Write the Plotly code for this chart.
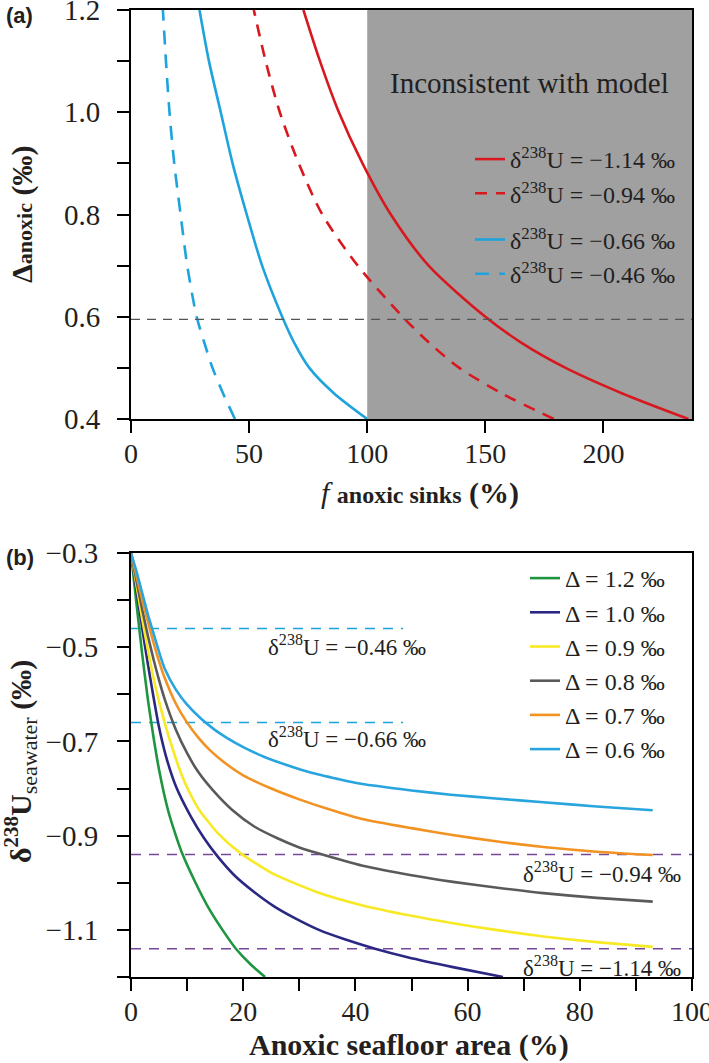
import plotly.graph_objects as go

# ---------------- Panel (a) data ----------------
delta_a = [0.4, 0.45, 0.5, 0.55, 0.6, 0.7, 0.8, 0.9, 1.0, 1.1, 1.2]
f_red_solid = [236, 208, 184, 165, 150, 126, 110, 98, 88, 80, 73]          # d238U = -1.14
f_red_dash = [179, 157, 139, 126, 115, 96, 81, 71, 63, 57, 52]             # d238U = -0.94
f_blue_solid = [100, 86, 75.5, 69, 64, 55.5, 49, 43, 38, 33, 29]           # d238U = -0.66
f_blue_dash = [44, 39, 34.5, 31, 27.8, 23.8, 21, 18.3, 16.3, 14.8, 13.5]   # d238U = -0.46
names_a = ["δ<sup>238</sup>U = −1.14 ‰", "δ<sup>238</sup>U = −0.94 ‰",
           "δ<sup>238</sup>U = −0.66 ‰", "δ<sup>238</sup>U = −0.46 ‰"]
ref_delta_a = 0.595
shade_start = 100
xa_range = [0, 237.5]
ya_range = [0.4, 1.2]
xa_tickvals = [0, 50, 100, 150, 200]
xa_ticktext = ["0", "50", "100", "150", "200"]
ya_tickvals = [0.4, 0.5, 0.6, 0.7, 0.8, 0.9, 1.0, 1.1, 1.2]
ya_ticktext = ["0.4", "", "0.6", "", "0.8", "", "1.0", "", "1.2"]

# ---------------- Panel (b) data ----------------
x_d12 = [0, 1, 2, 3, 4, 5, 6.6, 8, 9.1, 11.5, 13.9, 16.3, 18.7, 21.3, 23.9]
y_d12 = [-0.3, -0.41, -0.515, -0.61, -0.69, -0.76, -0.846, -0.9, -0.937, -1.0, -1.055, -1.1, -1.14, -1.173, -1.2]
x_d10 = [0, 1, 2, 3, 4, 5, 6.2, 8, 10.7, 13, 15.5, 18.5, 22, 25.5, 29.2, 33.5, 38.1, 43.5, 49.3, 57.4, 66.3]
y_d10 = [-0.3, -0.38, -0.46, -0.535, -0.605, -0.67, -0.73, -0.795, -0.86, -0.905, -0.945, -0.985, -1.02, -1.05,
         -1.075, -1.1, -1.12, -1.14, -1.158, -1.179, -1.2]
x_d09 = [0, 1, 2, 3, 4, 5, 6, 7.4, 9, 10.5, 12.2, 15.5, 19.5, 25.2, 33.2, 41.3, 50, 57.4, 65, 73.5, 83, 93]
y_d09 = [-0.3, -0.37, -0.44, -0.505, -0.565, -0.615, -0.66, -0.715, -0.77, -0.81, -0.846, -0.895, -0.937, -0.98,
         -1.02, -1.048, -1.07, -1.086, -1.10, -1.114, -1.126, -1.136]
x_d08 = [0, 1, 2, 3, 4, 5, 6, 8, 10, 12, 14.7, 18, 21.9, 26, 30, 33.2, 41.3, 50, 57.4, 65, 73.5, 83, 93]
y_d08 = [-0.3, -0.36, -0.42, -0.475, -0.525, -0.57, -0.61, -0.675, -0.725, -0.765, -0.805, -0.845, -0.88, -0.905,
         -0.925, -0.937, -0.964, -0.984, -0.998, -1.01, -1.022, -1.032, -1.04]
x_d07 = [0, 1, 2, 3, 4, 5, 6, 8, 10, 12, 14, 17, 20, 25, 30, 35, 41, 50, 57, 65, 73.5, 83, 93]
y_d07 = [-0.3, -0.35, -0.40, -0.445, -0.49, -0.53, -0.565, -0.62, -0.66, -0.692, -0.718, -0.748, -0.772, -0.80,
         -0.823, -0.843, -0.864, -0.884, -0.898, -0.912, -0.924, -0.934, -0.941]
x_d06 = [0, 1, 2, 3, 4, 5, 6, 8, 10, 12.5, 15, 17.3, 20, 24, 28, 32, 37, 41, 50, 57, 65, 73.5, 83, 93]
y_d06 = [-0.3, -0.34, -0.385, -0.43, -0.47, -0.51, -0.545, -0.59, -0.622, -0.652, -0.676, -0.694, -0.712, -0.734,
         -0.751, -0.766, -0.78, -0.79, -0.804, -0.813, -0.821, -0.829, -0.838, -0.846]
names_b = ["Δ = 1.2 ‰", "Δ = 1.0 ‰", "Δ = 0.9 ‰", "Δ = 0.8 ‰", "Δ = 0.7 ‰", "Δ = 0.6 ‰"]
ref_blue_b = [-0.46, -0.66]
ref_blue_b_xmax = 48.5
ref_purple_b = [-0.94, -1.14]
ref_labels_b = ["δ<sup>238</sup>U = −0.46 ‰", "δ<sup>238</sup>U = −0.66 ‰",
                "δ<sup>238</sup>U = −0.94 ‰", "δ<sup>238</sup>U = −1.14 ‰"]
ref_label_x = [38.5, 38.5, 84, 84]
ref_label_y = [-0.497, -0.692, -0.979, -1.178]
xb_range = [0, 100]
yb_range = [-1.2, -0.3]
xb_tickvals = [0, 10, 20, 30, 40, 50, 60, 70, 80, 90, 100]
xb_ticktext = ["0", "", "20", "", "40", "", "60", "", "80", "", "100"]
yb_tickvals = [-1.2, -1.1, -1.0, -0.9, -0.8, -0.7, -0.6, -0.5, -0.4, -0.3]
yb_ticktext = ["", "−1.1", "", "−0.9", "", "−0.7", "", "−0.5", "", "−0.3"]

# ---------------- Styling ----------------
W, H = 709, 1063
SERIF = "Liberation Serif, Times New Roman, serif"
SANS = "Liberation Sans, Arial, sans-serif"
TXT = "#231f20"
RED = "#d7191f"
BLUE = "#1fa3dc"
COLORS_B = ["#1e9640", "#2b2884", "#f8e925", "#5a5a5a", "#f29222", "#28a5de"]
PURPLE = "#74479b"


def px_x(p):
    return p / W


def px_y(p):
    return 1 - p / H


fig = go.Figure()

# panel (a) curves
a_series = [(f_red_solid, RED, "solid", "red"), (f_red_dash, RED, "12px,9px", "red"),
            (f_blue_solid, BLUE, "solid", "blue"), (f_blue_dash, BLUE, "14px,10px", "blue")]
for (fx, col, dash, grp), nm in zip(a_series, names_a):
    fig.add_trace(go.Scatter(x=fx, y=delta_a, mode="lines", name=nm,
                             line=dict(color=col, width=2.6, dash=dash, shape="spline", smoothing=0.8),
                             xaxis="x", yaxis="y", legend="legend", legendgroup=grp))

# reference dashed line (a)
fig.add_trace(go.Scatter(x=xa_range, y=[ref_delta_a, ref_delta_a], mode="lines",
                         line=dict(color="#555555", width=1.3, dash="9px,7px"),
                         showlegend=False, hoverinfo="skip", xaxis="x", yaxis="y"))

# panel (b) reference lines
for yv in ref_blue_b:
    fig.add_trace(go.Scatter(x=[0, ref_blue_b_xmax], y=[yv, yv], mode="lines",
                             line=dict(color=BLUE, width=1.5, dash="10px,8px"),
                             showlegend=False, hoverinfo="skip", xaxis="x2", yaxis="y2"))
for yv in ref_purple_b:
    fig.add_trace(go.Scatter(x=xb_range, y=[yv, yv], mode="lines",
                             line=dict(color=PURPLE, width=1.5, dash="10px,8px"),
                             showlegend=False, hoverinfo="skip", xaxis="x2", yaxis="y2"))

# panel (b) curves
b_series = [(x_d12, y_d12), (x_d10, y_d10), (x_d09, y_d09), (x_d08, y_d08), (x_d07, y_d07), (x_d06, y_d06)]
for (xs, ys), col, nm in zip(b_series, COLORS_B, names_b):
    fig.add_trace(go.Scatter(x=xs, y=ys, mode="lines", name=nm,
                             line=dict(color=col, width=2.6, shape="spline", smoothing=0.6),
                             xaxis="x2", yaxis="y2", legend="legend2"))

xdom = [px_x(131), px_x(692)]
axis_common = dict(showline=True, linecolor="black", linewidth=2, mirror=True,
                   ticks="outside", ticklen=12, tickwidth=1.5, tickcolor="black",
                   showgrid=False, zeroline=False, automargin=False,
                   ticklabeloverflow="allow")
tick_font = dict(family=SERIF, size=28, color=TXT)
ytick_font = dict(family=SERIF, size=29, color=TXT)

fig.update_layout(
    width=W, height=H, autosize=False,
    margin=dict(l=0, r=0, t=0, b=0, pad=0),
    paper_bgcolor="white", plot_bgcolor="white",
    xaxis=dict(domain=xdom, range=xa_range, tickmode="array", tickvals=xa_tickvals,
               ticktext=xa_ticktext, anchor="y", ticklabelstandoff=-4, tickfont=tick_font,
               **axis_common),
    yaxis=dict(domain=[px_y(419), px_y(10)], range=ya_range, tickmode="array",
               tickvals=ya_tickvals, ticktext=ya_ticktext, anchor="x",
               ticklabelstandoff=11, tickfont=ytick_font, **axis_common),
    xaxis2=dict(domain=xdom, range=xb_range, tickmode="array", tickvals=xb_tickvals,
                ticktext=xb_ticktext, anchor="y2", ticklabelstandoff=-4, tickfont=tick_font,
                **axis_common),
    yaxis2=dict(domain=[px_y(977), px_y(553)], range=yb_range, tickmode="array",
                tickvals=yb_tickvals, ticktext=yb_ticktext, anchor="x2",
                ticklabelstandoff=13, tickfont=ytick_font, **axis_common),
    legend=dict(x=px_x(470), y=px_y(137), xanchor="left", yanchor="top",
                bgcolor="rgba(0,0,0,0)", borderwidth=0,
                font=dict(family=SERIF, size=24, color=TXT),
                traceorder="grouped", tracegroupgap=12, itemwidth=30),
    legend2=dict(x=px_x(525), y=px_y(556), xanchor="left", yanchor="top",
                 bgcolor="rgba(0,0,0,0)", borderwidth=0,
                 font=dict(family=SERIF, size=24, color=TXT),
                 traceorder="normal", itemwidth=30),
    showlegend=True,
)

# grey inconsistent region
fig.add_shape(type="rect", xref="x", yref="y", x0=shade_start, x1=xa_range[1],
              y0=ya_range[0], y1=ya_range[1], fillcolor="#a0a0a0", line=dict(width=0),
              layer="below")

annotations = [
    dict(text="Inconsistent with model", x=168.5, y=1.057, xref="x", yref="y",
         showarrow=False, font=dict(family=SERIF, size=29, color=TXT)),
    dict(text="<b>(a)</b>", x=px_x(4), y=px_y(15), xref="paper", yref="paper",
         xanchor="left", yanchor="middle", showarrow=False,
         font=dict(family=SANS, size=22, color=TXT)),
    dict(text="<b>(b)</b>", x=px_x(4), y=px_y(557), xref="paper", yref="paper",
         xanchor="left", yanchor="middle", showarrow=False,
         font=dict(family=SANS, size=22, color=TXT)),
    dict(text="<b>Δ<span style='font-size:22px'>anoxic</span> (‰)</b>",
         x=px_x(22), y=px_y(215), xref="paper", yref="paper", textangle=-90,
         xanchor="center", yanchor="middle",
         showarrow=False, font=dict(family=SERIF, size=30, color=TXT)),
    dict(text="<i>f</i> <b><span style='font-size:24px'>anoxic sinks</span> (%)</b>",
         x=px_x(420), y=px_y(493), xref="paper", yref="paper",
         xanchor="center", yanchor="middle",
         showarrow=False, font=dict(family=SERIF, size=30, color=TXT)),
    dict(text="<b>δ<sup>238</sup>U</b><sub><span style='font-size:22px'>seawater</span></sub><b> (‰)</b>",
         x=px_x(20), y=px_y(762), xref="paper", yref="paper", textangle=-90,
         xanchor="center", yanchor="middle",
         showarrow=False, font=dict(family=SERIF, size=30, color=TXT)),
    dict(text="<b>Anoxic seafloor area (%)</b>", x=px_x(409), y=px_y(1045),
         xref="paper", yref="paper", xanchor="center", yanchor="middle", showarrow=False,
         font=dict(family=SERIF, size=30, color=TXT)),
]
for t, xv, yv in zip(ref_labels_b, ref_label_x, ref_label_y):
    annotations.append(dict(text=t, x=xv, y=yv, xref="x2", yref="y2", showarrow=False,
                            font=dict(family=SERIF, size=23, color=TXT)))
fig.update_layout(annotations=annotations)

fig.write_html("out.html", config={"displayModeBar": False},
               post_script="document.body.style.margin='0';document.body.style.overflow='hidden';")
